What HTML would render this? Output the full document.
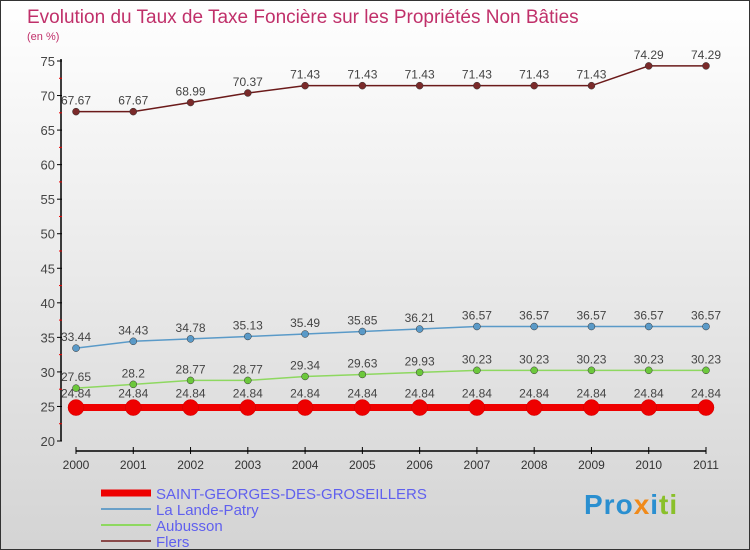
<!DOCTYPE html>
<html><head><meta charset="utf-8"><style>
body{margin:0}
#c{width:750px;height:550px;position:relative;overflow:hidden;background:linear-gradient(#ffffff,#d4d4d4);box-sizing:border-box;border:1px solid #333;font-family:"Liberation Sans",sans-serif}
</style></head><body>
<div id="c">
<svg id="s" width="750" height="550" style="position:absolute;left:0;top:0">
<text x="26" y="22" font-size="19" fill="#c0306a">Evolution du Taux de Taxe Foncière sur les Propriétés Non Bâties</text>
<text x="26" y="39" font-size="11" fill="#c0306a">(en %)</text>
<g id="g"></g>
</svg>
<div style="position:absolute;left:583px;top:488px;font-size:28px;font-weight:bold;letter-spacing:1px"><span style="color:#2a8fd0">Pro</span><span style="color:#f08a1a">x</span><span style="color:#2a8fd0">i</span><span style="color:#8ac02a">ti</span></div>
</div>
<script>
const years=['2000','2001','2002','2003','2004','2005','2006','2007','2008','2009','2010','2011'];
const yTicks=[20,25,30,35,40,45,50,55,60,65,70,75];
const flers=[67.67,67.67,68.99,70.37,71.43,71.43,71.43,71.43,71.43,71.43,74.29,74.29];
const lalande=[33.44,34.43,34.78,35.13,35.49,35.85,36.21,36.57,36.57,36.57,36.57,36.57];
const aubusson=[27.65,28.2,28.77,28.77,29.34,29.63,29.93,30.23,30.23,30.23,30.23,30.23];
const stgeorges=[24.84,24.84,24.84,24.84,24.84,24.84,24.84,24.84,24.84,24.84,24.84,24.84];
const names=['SAINT-GEORGES-DES-GROSEILLERS','La Lande-Patry','Aubusson','Flers'];
const NS='http://www.w3.org/2000/svg',g=document.getElementById('g');
const X=i=>75+i*(630/11), Y=v=>440-(v-20)*(380/55);
function mk(t,a,name,txt){const e=document.createElementNS(NS,t);for(const k in a)e.setAttribute(k,a[k]);


if(txt!==undefined)e.textContent=txt;g.appendChild(e);return e;}
mk('line',{x1:60,y1:58,x2:60,y2:440,stroke:'#000','stroke-width':1.5},'y-axis');
yTicks.forEach(v=>{mk('line',{x1:56,y1:Y(v),x2:61,y2:Y(v),stroke:'#000'},'y-tick');
mk('text',{x:54,y:Y(v)+5,'text-anchor':'end','font-size':13,fill:'#444'},'y-tick-label',v);
if(v<75)mk('line',{x1:58,y1:Y(v+2.5),x2:61,y2:Y(v+2.5),stroke:'#e00'},'y-minor-tick');});
mk('line',{x1:75,y1:450,x2:705,y2:450,stroke:'#000','stroke-width':1.5},'x-axis');
years.forEach((y,i)=>{mk('line',{x1:X(i),y1:446,x2:X(i),y2:453,stroke:'#000'},'x-tick');
mk('text',{x:X(i),y:468,'text-anchor':'middle','font-size':12,fill:'#333'},'x-tick-label',y);});
const series=[[flers,'#6b1a1a','#7a2a2a',1.5,3.5,'flers'],[lalande,'#5a9ac8','#5a9ac8',1.5,3.5,'la-lande-patry'],[aubusson,'#8ed860','#6cc83c',1.5,3.5,'aubusson'],[stgeorges,'#ee0000','#ee0000',7,8,'saint-georges']];
series.forEach(([d,lc,pc,w,r,n])=>{
mk('polyline',{points:d.map((v,i)=>X(i)+','+Y(v)).join(' '),fill:'none',stroke:lc,'stroke-width':w},n+'-line');
d.forEach((v,i)=>{mk('circle',{cx:X(i),cy:Y(v),r:r,fill:pc,stroke:n=='saint-georges'?'#c00':'#333','stroke-width':0.5},n+'-point');
mk('text',{x:X(i),y:Y(v)-(n=='saint-georges'?10:7),'text-anchor':'middle','font-size':12,fill:'#444'},n+'-value-label',v);});});
const lc=['#ee0000','#6aa0c8','#8ed860','#8a4a4a'],lw=[7,2,2,2];
names.forEach((nm,k)=>{const y=492+k*16;
mk('line',{x1:100,y1:y,x2:150,y2:y,stroke:lc[k],'stroke-width':lw[k]},'legend-swatch');
mk('text',{x:155,y:y+6,'font-size':15,fill:'#6060ee'},'legend-entry',nm);});
</script>
</body></html>
